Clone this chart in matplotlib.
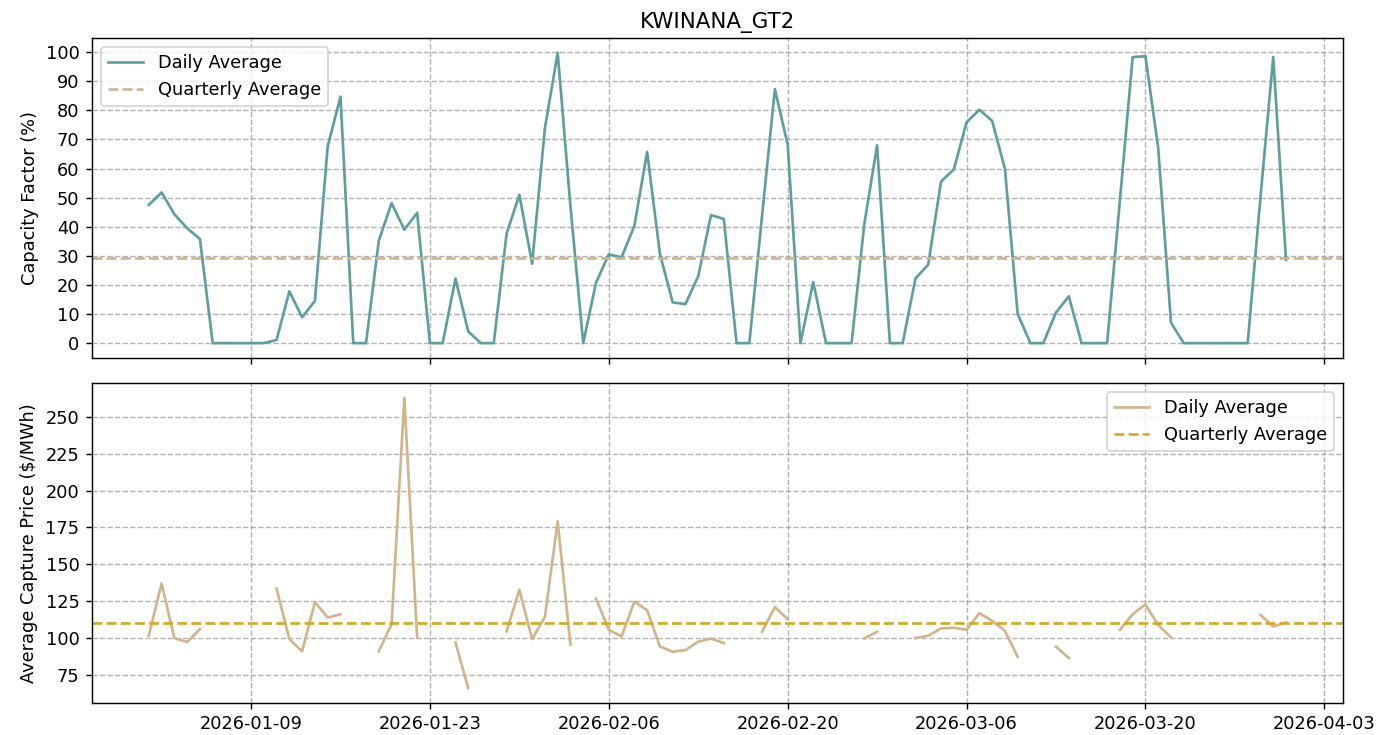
import numpy as np
import pandas as pd
import matplotlib
matplotlib.use("Agg")
import matplotlib.pyplot as plt
import matplotlib.dates as mdates

nan = np.nan

# daily data, 2026-01-01 .. 2026-03-31
dates = pd.date_range("2026-01-01", "2026-03-31", freq="D")

capacity_factor = [
    47.5, 51.8, 44.3, 39.5, 35.8, 0, 0, 0, 0, 0,
    1.1, 17.8, 8.9, 14.5, 67.6, 84.7, 0, 0, 35.2, 48.1,
    39.0, 44.8, 0, 0, 22.2, 4.0, 0, 0, 37.6, 51.0,
    27.3, 73.9, 99.8, 47.0, 0, 20.8, 30.5, 29.5, 40.3, 65.7,
    30.7, 14.0, 13.4, 23.0, 44.0, 42.7, 0, 0, 44.0, 87.3,
    68.2, 0, 21.0, 0, 0, 0, 41.0, 68.0, 0, 0,
    22.2, 27.0, 55.5, 59.7, 75.9, 80.2, 76.4, 60.0, 10.0, 0,
    0, 10.5, 16.1, 0, 0, 0, 49.0, 98.3, 98.6, 67.0,
    7.0, 0, 0, 0, 0, 0, 0, 50.0, 98.3, 28.6,
]

capture_price = [
    101.4, 136.9, 99.8, 97.1, 105.9, nan, nan, nan, nan, nan,
    133.3, 99.1, 90.8, 124.3, 113.7, 116.0, nan, nan, 90.8, 109.2,
    263.0, 100.0, nan, nan, 96.8, 65.8, nan, nan, 104.2, 132.6,
    99.1, 114.2, 179.0, 95.3, nan, 126.6, 105.4, 100.9, 124.5, 118.7,
    94.1, 90.5, 91.7, 97.3, 99.5, 96.4, nan, nan, 104.1, 120.9,
    112.6, nan, nan, nan, nan, nan, 99.5, 104.1, nan, nan,
    99.8, 101.4, 106.3, 106.8, 105.4, 116.7, 111.5, 104.7, 87.2, nan,
    nan, 93.9, 86.3, nan, nan, nan, 105.4, 116.0, 122.7, 108.6,
    100.2, nan, nan, nan, nan, nan, nan, 115.5, 107.7, 110.4,
]

cf_quarterly = 29.2
price_quarterly = 109.7

tick_dates = pd.date_range("2026-01-09", periods=7, freq="14D")

fig, (ax1, ax2) = plt.subplots(2, 1, figsize=(1393 / 128, 735 / 128), dpi=128, sharex=True)
fig.subplots_adjust(left=0.066, right=0.964, top=0.948, bottom=0.044, hspace=0.08)

# capacity factor
ax1.plot(dates, capacity_factor, color="#5f9ea0", label="Daily Average")
ax1.axhline(cf_quarterly, color="#d2b48c", linestyle="--", label="Quarterly Average")
ax1.set_title("KWINANA_GT2")
ax1.set_ylabel("Capacity Factor (%)")
ax1.set_yticks(np.arange(0, 101, 10))
ax1.grid(True, linestyle="--", color="gray", alpha=0.6)
ax1.legend(loc="upper left")

# capture price
ax2.plot(dates, capture_price, color="#d2b48c", label="Daily Average")
ax2.axhline(price_quarterly, color="#daa520", linestyle="--", label="Quarterly Average")
ax2.set_ylabel("Average Capture Price ($/MWh)")
ax2.set_yticks(np.arange(75, 251, 25))
ax2.grid(True, linestyle="--", color="gray", alpha=0.6)
ax2.legend(loc="upper right")

ax2.set_xticks(tick_dates)
ax2.xaxis.set_major_formatter(mdates.DateFormatter("%Y-%m-%d"))

fig.savefig("out.png", dpi=128)
